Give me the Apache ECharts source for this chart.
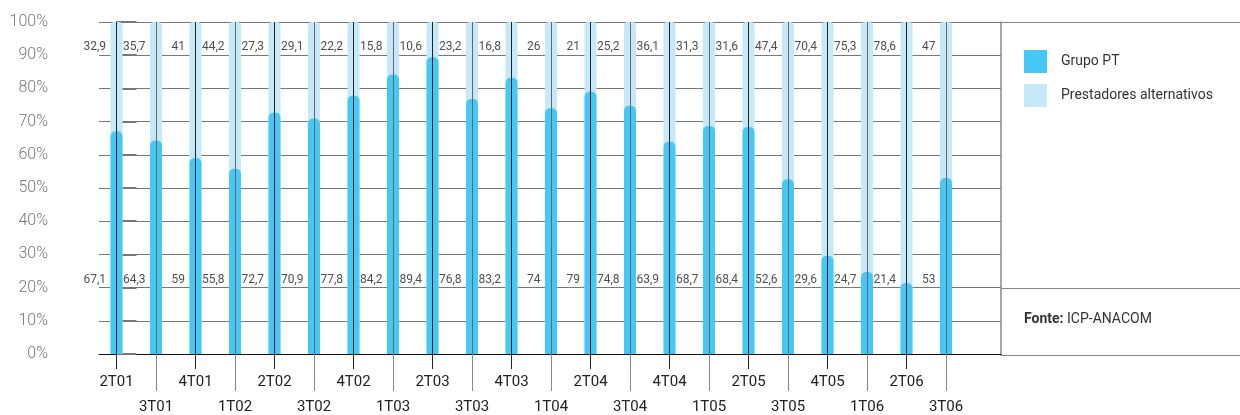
<!DOCTYPE html>
<html><head><meta charset="utf-8">
<script src="https://cdn.jsdelivr.net/npm/echarts@6/dist/echarts.min.js"></script>
<style>html,body{margin:0;padding:0;background:#fff}#c{width:1240px;height:415px}</style>
</head><body><div id="c"></div>
<script>
const categories = ['2T01','3T01','4T01','1T02','2T02','3T02','4T02','1T03','2T03','3T03','4T03','1T04','2T04','3T04','4T04','1T05','2T05','3T05','4T05','1T06','2T06','3T06'];
const grupoPT = [67.1,64.3,59,55.8,72.7,70.9,77.8,84.2,89.4,76.8,83.2,74,79,74.8,63.9,68.7,68.4,52.6,29.6,24.7,21.4,53];
const alternativos = [32.9,35.7,41,44.2,27.3,29.1,22.2,15.8,10.6,23.2,16.8,26,21,25.2,36.1,31.3,31.6,47.4,70.4,75.3,78.6,47];
const seriesNames = ['Grupo PT','Prestadores alternativos'];
const sourceLabel = 'Fonte:';
const sourceText = 'ICP-ANACOM';

const FONT = 'Roboto';
const DARK = '#45C8F5';
const LIGHT = '#C6E9F9';
const X_MIN = -0.443, X_MAX = 22.392;
const TOP_LABEL_Y = 92.5, BOTTOM_LABEL_Y = 22.4;

const idx = categories.map((c, i) => i);
const evenIdx = idx.filter(i => i % 2 === 0);
const oddIdx = idx.filter(i => i % 2 === 1);
const fmt = v => String(v).replace('.', ',');

const chart = echarts.init(document.getElementById('c'), null, {renderer: 'canvas'});
chart.setOption({
  animation: false,
  textStyle: {fontFamily: FONT},
  title: {
    left: 1024, top: 312, padding: 0,
    text: '{b|' + sourceLabel + '} ' + sourceText,
    textStyle: {fontFamily: FONT, fontSize: 14, fontWeight: 'normal', color: '#333',
      rich: {b: {fontFamily: FONT, fontSize: 14, fontWeight: 'bold', color: '#333'}}}
  },
  legend: {
    left: 1024, top: 50, orient: 'vertical', padding: 0,
    itemWidth: 23, itemHeight: 23, itemGap: 11, icon: 'rect',
    data: seriesNames,
    textStyle: {fontFamily: FONT, fontSize: 14, color: '#333', padding: [0, 0, 0, 9]}
  },
  grid: [
    {left: 99, right: 239, top: 22, bottom: 60},
    {left: 1001, right: 0, top: 22, bottom: 60}
  ],
  xAxis: [
    {type: 'value', gridIndex: 0, min: X_MIN, max: X_MAX,
     axisLine: {show: true, lineStyle: {color: '#111', width: 1}},
     splitLine: {show: false},
     axisTick: {show: true, customValues: evenIdx, length: 15, lineStyle: {color: '#222', width: 1}},
     axisLabel: {show: true, customValues: evenIdx, margin: 21, fontSize: 15, color: '#222', fontFamily: FONT,
       formatter: v => categories[Math.round(v)]}},
    {type: 'value', gridIndex: 0, min: X_MIN, max: X_MAX, position: 'bottom',
     axisLine: {show: false},
     splitLine: {show: false},
     axisTick: {show: true, customValues: oddIdx, length: 37, lineStyle: {color: '#888', width: 1}},
     axisLabel: {show: true, customValues: oddIdx, margin: 46, fontSize: 15, color: '#222', fontFamily: FONT,
       formatter: v => categories[Math.round(v)]}},
    {type: 'value', gridIndex: 1, show: false, min: 0, max: 1}
  ],
  yAxis: [
    {type: 'value', gridIndex: 0, min: 0, max: 100, interval: 10, offset: 36,
     axisLine: {show: true, lineStyle: {color: '#777', width: 2}},
     axisTick: {show: true, inside: true, length: 20, lineStyle: {color: '#777', width: 2}},
     axisLabel: {margin: 15, fontSize: 16, color: '#777', fontWeight: 300, fontFamily: FONT, formatter: '{value}%'},
     splitLine: {show: true, lineStyle: {color: '#777', width: 1}}},
    {type: 'value', gridIndex: 1, min: 0, max: 100, interval: 20,
     axisLine: {show: true, lineStyle: {color: '#888', width: 1.5}},
     axisTick: {show: false}, axisLabel: {show: false},
     splitLine: {show: true, lineStyle: {width: 1, color: ['#888', '#888', 'rgba(0,0,0,0)', 'rgba(0,0,0,0)', 'rgba(0,0,0,0)', '#888']}}}
  ],
  series: [
    {name: seriesNames[1], type: 'bar', xAxisIndex: 0, yAxisIndex: 0, barWidth: 12, barGap: '-100%',
     itemStyle: {color: LIGHT, borderRadius: [4, 4, 0, 0]},
     data: idx.map(i => [i, Math.round((grupoPT[i] + alternativos[i]) * 10) / 10])},
    {name: seriesNames[0], type: 'bar', xAxisIndex: 0, yAxisIndex: 0, barWidth: 12, barGap: '-100%',
     itemStyle: {color: DARK, borderRadius: [5, 5, 0, 0]},
     data: idx.map(i => [i, grupoPT[i]]),
     markLine: {silent: true, symbol: 'none', label: {show: false}, animation: false,
       data: idx.map(i => ({xAxis: i, lineStyle: {type: 'solid', width: 1, color: i % 2 === 0 ? '#222' : '#666'}}))}},
    {name: 'altLabels', type: 'scatter', xAxisIndex: 0, yAxisIndex: 0, symbolSize: 1, silent: true,
     itemStyle: {color: 'rgba(0,0,0,0)'}, z: 10,
     label: {show: true, position: 'left', distance: 10, fontSize: 12, color: '#222', fontFamily: FONT,
       formatter: p => fmt(alternativos[p.dataIndex])},
     data: idx.map(i => [i, TOP_LABEL_Y])},
    {name: 'ptLabels', type: 'scatter', xAxisIndex: 0, yAxisIndex: 0, symbolSize: 1, silent: true,
     itemStyle: {color: 'rgba(0,0,0,0)'}, z: 10,
     label: {show: true, position: 'left', distance: 10, fontSize: 12, color: '#222', fontFamily: FONT,
       formatter: p => fmt(grupoPT[p.dataIndex])},
     data: idx.map(i => [i, BOTTOM_LABEL_Y])}
  ]
});
</script></body></html>
